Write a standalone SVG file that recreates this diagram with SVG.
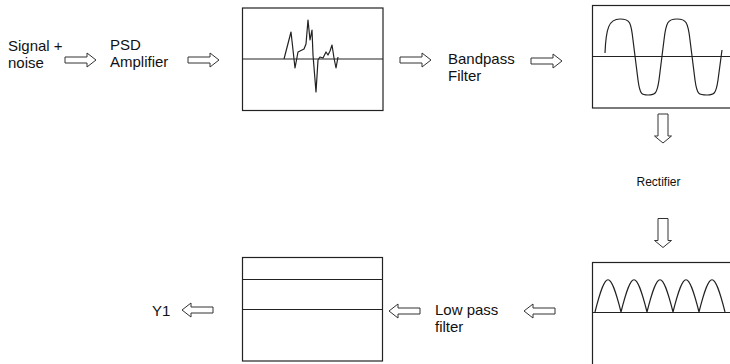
<svg xmlns="http://www.w3.org/2000/svg" width="730" height="364" viewBox="0 0 730 364">
<style>
text{font-family:"Liberation Sans",Arial,sans-serif;font-size:15px;fill:#111}
.small{font-size:12px}
.box{fill:#fff;stroke:#222;stroke-width:1.2}
.ln{stroke:#222;stroke-width:1.2;fill:none}
.wave{stroke:#222;stroke-width:1.2;fill:none;stroke-linejoin:round}
.arr{fill:#fff;stroke:#333;stroke-width:1}
</style>
<defs>
<path id="ha" d="M0,-3 H22 V-7 L31,0 L22,7 V3 H0 Z"/>
<path id="va" d="M-5,0 V22 H-8.5 L0,29 L8.5,22 H5 V0 Z"/>
</defs>
<rect width="730" height="364" fill="#fff"/>
<g id="signal-noise"><text x="8" y="51">Signal +</text><text x="8" y="68">noise</text></g>
<g id="psd-amplifier"><text x="110" y="50">PSD</text><text x="110" y="67">Amplifier</text></g>
<g id="noisy-plot">
<rect class="box" x="242.5" y="8" width="140.5" height="102.5"/>
<line class="ln" x1="242.5" y1="59" x2="383" y2="59"/>
<path class="wave" d="M284,59 L291,32 L295,68 L298,52 L302,50 L304,49 L306,44 L308,20 L310,40 L312,30 L313,55 L316,92 L318,60 L320,57 L323,58 L326,52 L328,55 L330,51 L332,45 L334,58 L336,68 L338,57"/>
</g>
<g id="bandpass-filter"><text x="448" y="64">Bandpass</text><text x="448" y="81">Filter</text></g>
<g id="sine-plot">
<rect class="box" x="592.5" y="5.5" width="140" height="102.5"/>
<line class="ln" x1="592.5" y1="56.5" x2="730" y2="56.5"/>
<path class="wave" d="M605,53 C606,28 609,19 620,19 C630,19 631,22 633,40 L638,80 C640,95 642,95 648,95 C655,95 657,94 659,80 L664,40 C666,22 668,19 677,19 C686,19 688,22 690,40 L695,80 C697,95 699,95 707,95 C714,95 716,94 718,80 L722,50"/>
</g>
<g id="rectifier"><text class="small" x="658.5" y="186" text-anchor="middle">Rectifier</text></g>
<g id="rectified-plot">
<rect class="box" x="592.5" y="262.5" width="140" height="110"/>
<line class="ln" x1="592.5" y1="312.5" x2="730" y2="312.5"/>
<path class="wave" d="M595,312 C606,269 610,269 621,312 C632,269 636,269 647,312 C658,269 662,269 673,312 C684,269 688,269 699,312 C710,269 714,269 725,312"/>
</g>
<g id="low-pass-filter"><text x="435" y="315">Low pass</text><text x="435" y="332">filter</text></g>
<g id="output-plot">
<rect class="box" x="242.5" y="257.5" width="140" height="103.5"/>
<line class="ln" x1="242.5" y1="279.5" x2="382.5" y2="279.5"/>
<line class="ln" x1="242.5" y1="309.5" x2="382.5" y2="309.5"/>
</g>
<g id="y1"><text x="152" y="316">Y1</text></g>
<g id="connectors">
<use href="#ha" class="arr" transform="translate(65,60)"/>
<use href="#ha" class="arr" transform="translate(188,60)"/>
<use href="#ha" class="arr" transform="translate(400,60)"/>
<use href="#ha" class="arr" transform="translate(531,61)"/>
<use href="#va" class="arr" transform="translate(663,114)"/>
<use href="#va" class="arr" transform="translate(663,218.5)"/>
<use href="#ha" class="arr" transform="translate(555,311) scale(-1,1)"/>
<use href="#ha" class="arr" transform="translate(420,311) scale(-1,1)"/>
<use href="#ha" class="arr" transform="translate(213,310) scale(-1,1)"/>
</g>
</svg>
